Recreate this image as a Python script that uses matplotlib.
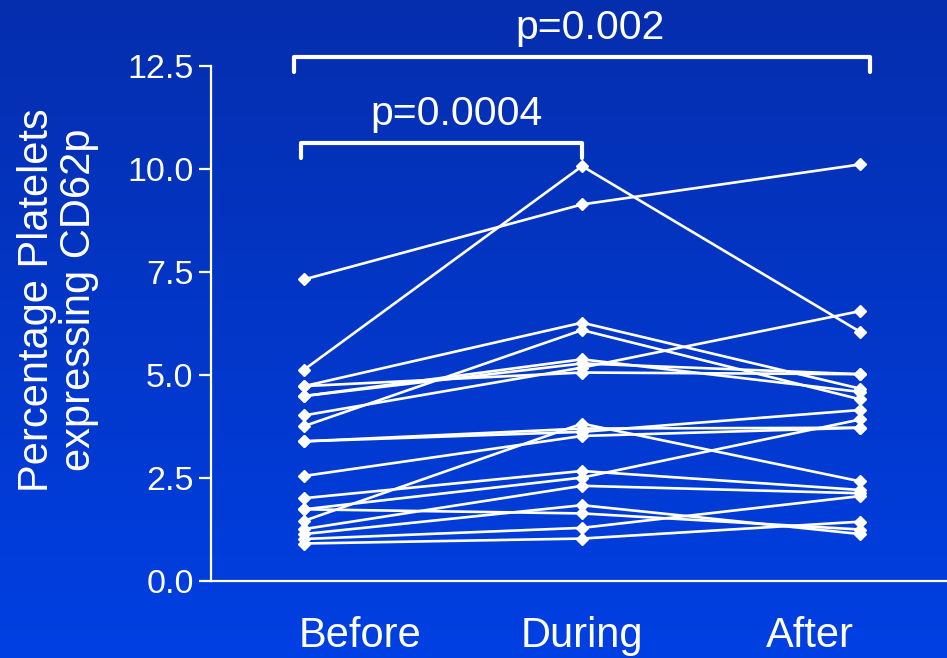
import numpy as np
import matplotlib
matplotlib.use("Agg")
from matplotlib import pyplot as plt

# one value per subject for each time point
before = [7.32, 5.13, 4.73, 3.76, 4.73, 4.49, 4.02, 4.49, 3.39, 2.55,
          1.46, 3.39, 2.01, 1.74, 1.26, 1.74, 1.14, 1.02, 0.91]
during = [9.14, 10.07, 6.27, 6.09, 5.06, 5.38, 5.18, 5.28, 3.62, 3.52,
          3.82, 3.70, 2.67, 2.51, 2.31, 1.64, 1.84, 1.29, 1.03]
after = [10.11, 6.05, 4.67, 4.41, 5.02, 4.59, 6.55, 5.02, 4.15, 3.72,
         2.42, 3.72, 2.21, 3.92, 2.13, 1.25, 1.14, 2.06, 1.44]

phases = ["Before", "During", "After"]
yticks = [0.0, 2.5, 5.0, 7.5, 10.0, 12.5]
# label, first group, second group, bracket height
comparisons = [("p=0.0004", 0, 1, 10.63), ("p=0.002", 0, 2, 12.72)]

plt.rcParams['font.family'] = ['Liberation Sans', 'DejaVu Sans']

fig = plt.figure(figsize=(9.47, 6.58), dpi=100)

# background gradient (dark blue at top, brighter at bottom)
bg = fig.add_axes([0, 0, 1, 1])
top = np.array([0.02, 0.18, 0.68])
bottom = np.array([0.0, 0.25, 0.89])
t = np.linspace(0, 1, 256)[:, None]
grad = top + (bottom - top) * t
bg.imshow(grad[:, None, :].repeat(2, axis=1), aspect='auto', extent=[0, 1, 0, 1])
bg.axis('off')

ax = fig.add_axes([211 / 947, 77 / 658, 1 - 211 / 947, (581 - 66) / 658])
ax.patch.set_alpha(0)

x = np.arange(len(phases))
for b, d, a in zip(before, during, after):
    ax.plot(x, [b, d, a], color='white', lw=1.9, marker='D', ms=6,
            mec='white', mfc='white', clip_on=False)

ax.set_xlim(-0.335, 2.313)
ax.set_ylim(0, 12.5)
ax.set_yticks(yticks)
ax.set_yticklabels([f"{v:.1f}" for v in yticks])
ax.set_xticks([0.2, 1.0, 1.82])
ax.set_xticklabels(phases)

for side in ['top', 'right']:
    ax.spines[side].set_visible(False)
for side in ['left', 'bottom']:
    ax.spines[side].set_color('white')
    ax.spines[side].set_linewidth(1.6)

ax.tick_params(axis='y', colors='white', labelsize=24.5, length=8.5, width=1.6, pad=4)
ax.tick_params(axis='x', colors='white', labelsize=30, length=0, pad=25)

# significance brackets
for label, i, j, yb in comparisons:
    if j == 1:
        xi, xj, xt = -0.011, 1.0, 0.55
    else:
        xi, xj, xt = -0.036, 2.037, 1.03
    ax.plot([xi, xi, xj, xj], [yb - 0.36, yb, yb, yb - 0.36], color='white',
            lw=3, clip_on=False, solid_capstyle='round', solid_joinstyle='round')
    ax.text(xt, yb + 0.7, label, color='white', fontsize=29.5,
            ha='center', va='center')

fig.text(58 / 947, 1 - 300 / 658, "Percentage Platelets\nexpressing CD62p",
         color='white', fontsize=30, rotation=90, ha='center', va='center',
         multialignment='center', linespacing=1.05)

fig.savefig("out.png", dpi=100)
